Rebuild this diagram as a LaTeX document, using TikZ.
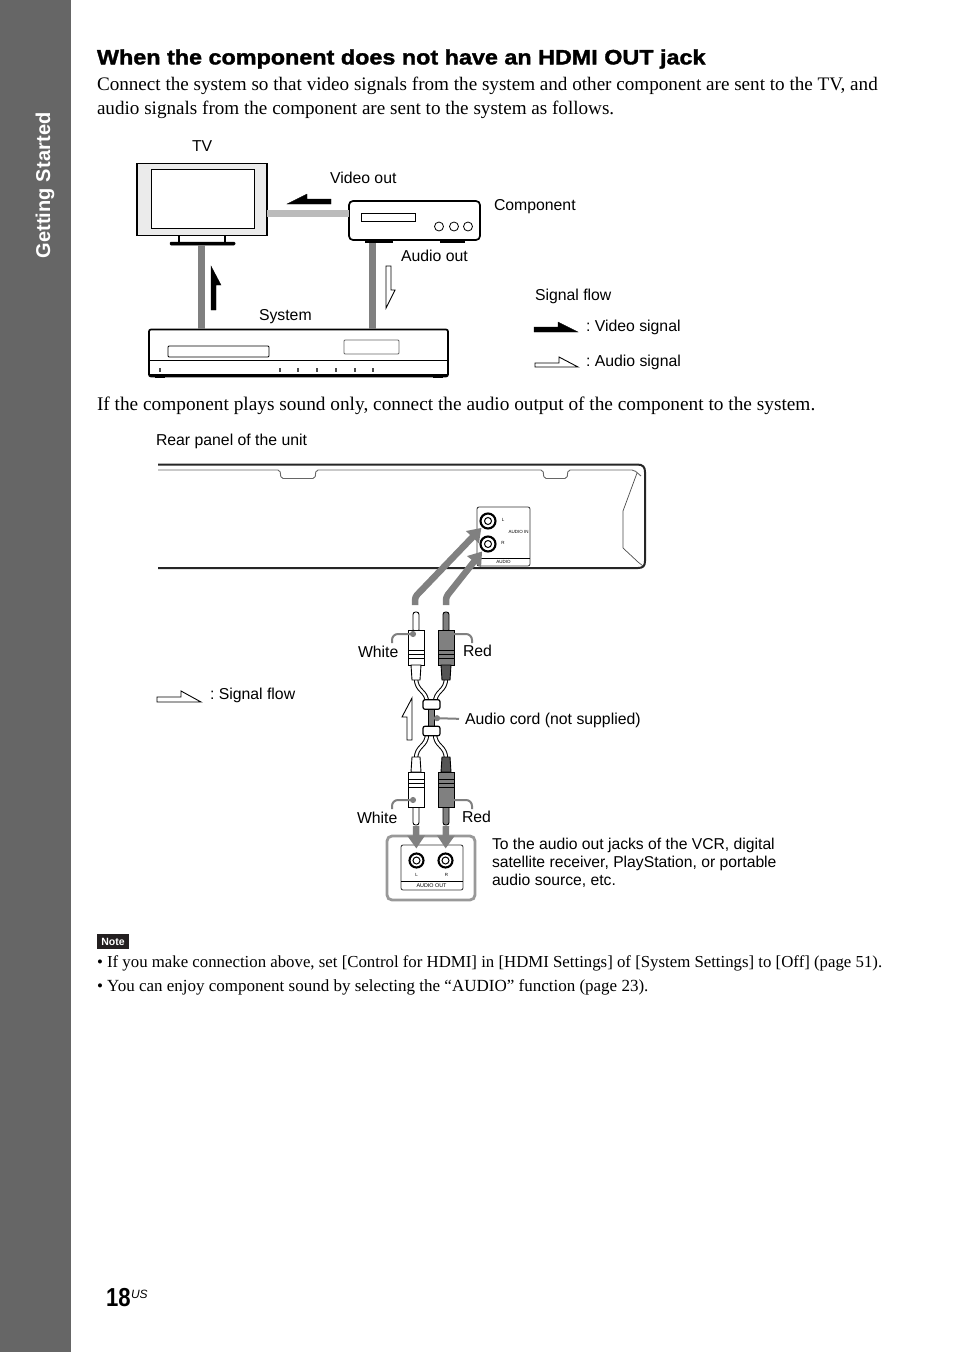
\documentclass[tikz,border=0pt]{standalone}
\usepackage{fontspec}
\usepackage{xcolor}
\setmainfont{Liberation Serif}
\setsansfont{Liberation Sans}
\newfontfamily\headfont[FakeBold=1.6,FakeStretch=1.12]{Liberation Sans}
\newfontfamily\numfont[FakeStretch=0.85]{Liberation Sans}
\newfontfamily\sidefont[LetterSpace=0.7]{Liberation Sans}
\frenchspacing
\usetikzlibrary{positioning, arrows.meta, calc}
\definecolor{bandgray}{HTML}{666666}
\definecolor{wiregray}{HTML}{808080}
\definecolor{videogray}{HTML}{BBBBBB}
\definecolor{plugdark}{HTML}{808080}
\definecolor{plugdeep}{HTML}{555555}
\definecolor{notebg}{HTML}{231F20}

\begin{document}
\begin{tikzpicture}[
  x=1pt, y=-1pt,
  every node/.style={inner sep=0pt, outer sep=0pt},
  lbl/.style={anchor=west, font=\sffamily\fontsize{15.8}{18}\selectfont,
              text height=12pt, text depth=2pt},
  para/.style={anchor=north west, align=left,
               font=\rmfamily\fontsize{19.12}{24}\selectfont},
  notetext/.style={anchor=north west, align=left,
               font=\rmfamily\fontsize{16.8}{24}\selectfont},
  device/.style={draw=black, line width=1.7pt, fill=white, rounded corners=4pt},
  slot/.style={draw=black, line width=0.9pt, fill=white, rounded corners=1pt},
  video/.style={videogray, line width=7pt},
  audio/.style={wiregray, line width=7pt},
  solidflow/.style={fill=black, draw=black, line width=0.3pt},
  openflow/.style={fill=white, draw=black, line width=0.9pt},
  plugpart/.style={draw=black, line width=0.9pt},
  cable/.style={draw=black, double=white, double distance=2.4pt, line width=1pt},
  joint/.style={draw=black, line width=1.2pt, fill=white, rounded corners=2pt,
                minimum width=17pt, minimum height=9.5pt},
  tinytext/.style={font=\sffamily\fontsize{4.5}{6}\selectfont},
  jackring/.style={circle, draw=black, line width=2.1pt, fill=white, minimum size=15pt},
  sigarrow/.style={wiregray, line width=6.5pt, rounded corners=3pt,
                   -{Triangle[length=13pt, width=17pt]}},
  leader/.style={wiregray, line width=2pt, rounded corners=6pt},
]
\useasboundingbox (0,0) rectangle (954,1352);
\fill[white] (0,0) rectangle (954,1352);

% Side band
\fill[bandgray] (0,0) rectangle (71,1352);
\node[rotate=90, text=white, font=\sidefont\bfseries\fontsize{20}{24}\selectfont]
  (side) at (45,185.5) {Getting Started};

% Heading and text
\node[anchor=west, font=\headfont\bfseries\fontsize{20.85}{24}\selectfont]
  (title) at (97,59) {When the component does not have an HDMI OUT jack};
\node[para] (intro) at (97,77.5)
  {Connect the system so that video signals from the system and other component are sent to the TV, and\\
   audio signals from the component are sent to the system as follows.};
\node[para, font=\rmfamily\fontsize{19.32}{24}\selectfont] (soundonly) at (97,397)
  {If the component plays sound only, connect the audio output of the component to the system.};

% Wires of the upper picture
\node[device, rounded corners=0pt, fill=black!8, minimum width=130pt, minimum height=72pt] (tv) at (202,199.5) {};
\node[draw=black, fill=white, line width=1pt, minimum width=103pt, minimum height=59pt] (screen) at (202.5,198.5) {};
\node[device, minimum width=131pt, minimum height=39pt] (comp) at (414.5,220.5) {};
\node[device, rounded corners=2pt, minimum width=299pt, minimum height=47pt] (sys) at (298.5,353) {};
\draw[line width=1.2pt] (179,236) -- (179,243) (225,236) -- (225,243);
\node[draw=black, fill=black, line width=0.5pt, rounded corners=1pt, minimum width=65pt, minimum height=3pt] (base) at (202.5,243.5) {};
\draw[video] (tv.east |- 0,213) -- (comp.west |- 0,213);
\draw[audio] (201,245) -- (201,329);
\draw[audio] (372,243) -- (372,329);

% Component details
\node[slot, rounded corners=0pt, minimum width=54pt, minimum height=8pt] (compslot) at (388.5,217) {};
\foreach \cx in {439,454,468}
  \draw[line width=0.8pt] (\cx,226.5) circle[radius=4.5pt];
\fill (365,240) rectangle (393,243);
\fill (440,240) rectangle (465,243);

% System details
\node[slot, minimum width=101pt, minimum height=11pt] (sysslot) at (218.5,351.5) {};
\node[slot, draw=black!60, minimum width=55pt, minimum height=14pt] (sysdisp) at (371.5,347) {};
\draw[line width=0.8pt] (sys.west |- 0,360) -- (sys.east |- 0,360);
\draw[line width=2.4pt] (150,375) -- (447,375);
\fill (155,376) rectangle (165,378);
\fill (433,376) rectangle (443,378);
\foreach \cx in {160,280,298,317,336,355,373}
  \draw[line width=2pt, black!70] (\cx,368) -- (\cx,372);

% Flow arrows, upper picture
\path[solidflow] (331,199) -- (307,199) -- (307,194) -- (287,204) -- (331,204) -- cycle;
\path[solidflow] (211,310) -- (216,310) -- (216,285) -- (221,285) -- (211,266) -- cycle;
\path[openflow] (386,266) -- (391,266) -- (391,290) -- (395,290) -- (386,308) -- cycle;

% Labels of the upper picture
\node[lbl] (ltv) at (192,146) {TV};
\node[lbl] (lvideo) at (330,178) {Video out};
\node[lbl] (lcomp) at (494,205) {Component};
\node[lbl] (laudio) at (401,256) {Audio out};
\node[lbl] (lsys) at (259,315) {System};
\node[lbl] (lflow) at (535,295) {Signal flow};
\node[lbl] (lvs) at (586,326) {: Video signal};
\node[lbl] (las) at (586,361) {: Audio signal};
\path[solidflow] (534,327) -- (558,327) -- (558,322) -- (578,332) -- (534,332) -- cycle;
\path[openflow] (535,363) -- (559,363) -- (559,357) -- (578,367) -- (535,367) -- cycle;

% Rear panel
\node[lbl] (lrear) at (156,440) {Rear panel of the unit};
\draw[line width=2pt, black!85] (158,464.5) -- (637,464.5) .. controls (643,464.5) and (645,467) .. (645,472)
  -- (645,561) .. controls (645,566) and (643,568) .. (638,568) -- (158,568);
\draw[line width=0.9pt, black!60, rounded corners=2pt] (158,470) -- (280,470) -- (281,478.5) -- (315,478.5) -- (316,470)
  -- (543,470) -- (544,478.5) -- (567,478.5) -- (568,470) -- (634,470) -- (641,476);
\draw[line width=0.7pt, black!70] (637,473) -- (623,511) -- (623,548) -- (638,562) -- (643,566);
\node[draw=black!80, line width=0.8pt, rounded corners=2pt, fill=white,
      minimum width=53pt, minimum height=59pt] (panel) at (503.5,536.5) {};
\draw[line width=0.6pt] (panel.west |- 0,558) -- (panel.east |- 0,558);
\node[jackring] (jackA) at (488,521) {};
\node[jackring] (jackB) at (488,544) {};
\foreach \jk in {jackA,jackB}
  \draw[line width=1pt] (\jk) circle[radius=3.5pt];
\node[tinytext] (tl) at (503,520) {L};
\node[tinytext] (tr) at (503,543) {R};
\node[tinytext] (tin) at (518.5,532) {AUDIO IN};
\node[tinytext] (taud) at (503.5,562) {AUDIO};

% Audio source panel
\node[draw=black!40, line width=2.8pt, rounded corners=5pt,
      minimum width=88pt, minimum height=64pt] (source) at (431,868) {};
\node[draw=black!80, line width=0.8pt, rounded corners=2pt, fill=white,
      minimum width=62pt, minimum height=45pt] (srcpanel) at (432,867.5) {};
\draw[line width=0.6pt] (srcpanel.west |- 0,881) -- (srcpanel.east |- 0,881);
\node[jackring, minimum size=14pt] (jackL) at (416.5,860.5) {};
\node[jackring, minimum size=14pt] (jackR) at (445.5,860.5) {};
\foreach \jk in {jackL,jackR}
  \draw[line width=1pt] (\jk) circle[radius=3.5pt];
\node[tinytext] (sl) at (416.5,874.5) {L};
\node[tinytext] (sr) at (446.5,874.5) {R};
\node[tinytext, font=\sffamily\fontsize{5.4}{6}\selectfont] (saud) at (431.5,885.5) {AUDIO OUT};

% Plugs and cords, lower pair mirrored
\foreach \py/\ys in {0/1, 1437/-1}{
  \begin{scope}[shift={(0,\py)}, yscale=\ys]
    \draw[cable] (416,678) .. controls (416,692) and (427,690) .. (427,703);
    \draw[cable] (446,678) .. controls (446,692) and (435,690) .. (435,703);
    \foreach \px/\pcol/\pneck in {416/white/white, 446/plugdark/plugdeep}{
      \draw[plugpart, fill=\pcol, rounded corners=2.5pt]
        (\px-3,632) -- (\px-3,612) -- (\px+3,612) -- (\px+3,632) -- cycle;
      \draw[plugpart, fill=\pcol] (\px-8,630) rectangle (\px+8,650);
      \draw[plugpart, fill=\pcol] (\px-8,650) rectangle (\px+8,665);
      \draw[plugpart, line width=0.5pt] (\px-8,654) -- (\px+8,654) (\px-8,658) -- (\px+8,658);
      \draw[plugpart, fill=\pneck] (\px-5,665) -- (\px-4,680) -- (\px+4,680) -- (\px+5,665) -- cycle;
    }
  \end{scope}
}
\node[draw=black, line width=0.9pt, fill=plugdark, minimum width=6pt, minimum height=18pt] (stem) at (431,718) {};
\node[joint] (jointA) at (431.5,704.5) {};
\node[joint] (jointB) at (431.5,731) {};

% Signal arrows into the jacks
\coordinate (tipWA) at (415,605);
\coordinate (tipRA) at (446,605);
\coordinate (tipWB) at (416,826);
\coordinate (tipRB) at (446,826);
\draw[sigarrow, shorten >=2pt] (tipWA) -- ++(0,-8) -- (jackA);
\draw[sigarrow, shorten >=2pt] (tipRA) -- ++(0,-8) -- (jackB);
\draw[sigarrow, shorten >=5pt] (tipWB) -- (jackL);
\draw[sigarrow, shorten >=5pt] (tipRB) -- (jackR);

% Labels of the lower picture
\node[lbl] (lwa) at (358,652) {White};
\node[lbl] (lra) at (463,651) {Red};
\node[lbl] (lcord) at (465,719) {Audio cord (not supplied)};
\node[lbl] (lwb) at (357,818) {White};
\node[lbl] (lrb) at (462,817) {Red};
\node[lbl] (lsig) at (210,694) {: Signal flow};
\node[anchor=north west, align=left, font=\sffamily\fontsize{15.7}{18}\selectfont] (lsrc) at (492,838)
  {To the audio out jacks of the VCR, digital\\satellite receiver, PlayStation, or portable\\audio source, etc.};

% Leaders
\draw[leader, {Circle[length=6pt]}-] (416,634) -- (392,634) -- (392,643);
\draw[leader, {Circle[length=6pt]}-] (446,634) -- (472,634) -- (472,643);
\draw[leader, {Circle[length=6pt]}-] (416,800) -- (392,800) -- (392,809);
\draw[leader, {Circle[length=6pt]}-] (446,800) -- (472,800) -- (472,809);
\draw[leader, {Circle[length=6pt]}-, shorten >=6pt] (stem) -- (lcord.west);

% Open arrows of the lower picture
\path[openflow] (412,698) -- (402,717) -- (407,717) -- (407,740) -- (412,740) -- cycle;
\path[openflow] (157,697) -- (181,697) -- (181,691) -- (201,702) -- (157,702) -- cycle;

% Note
\node[fill=notebg, text=white, font=\sffamily\bfseries\fontsize{10.5}{12}\selectfont,
      minimum width=32pt, minimum height=15pt] (notebox) at (113,941.5) {Note};
\node[notetext] (notes) at (97,956)
  {\textbullet\ If you make connection above, set [Control for HDMI] in [HDMI Settings] of [System Settings] to [Off] (page 51).\\
   {\fontsize{17}{24}\selectfont\textbullet\ You can enjoy component sound by selecting the ``AUDIO'' function (page 23).}};

% Page number
\node[anchor=base west, font=\numfont\bfseries\fontsize{26}{28}\selectfont] (pagenum) at (106,1306) {18};
\node[anchor=base west, font=\sffamily\itshape\fontsize{12}{14}\selectfont] (pageus) at (131,1298) {US};
\end{tikzpicture}
\end{document}
